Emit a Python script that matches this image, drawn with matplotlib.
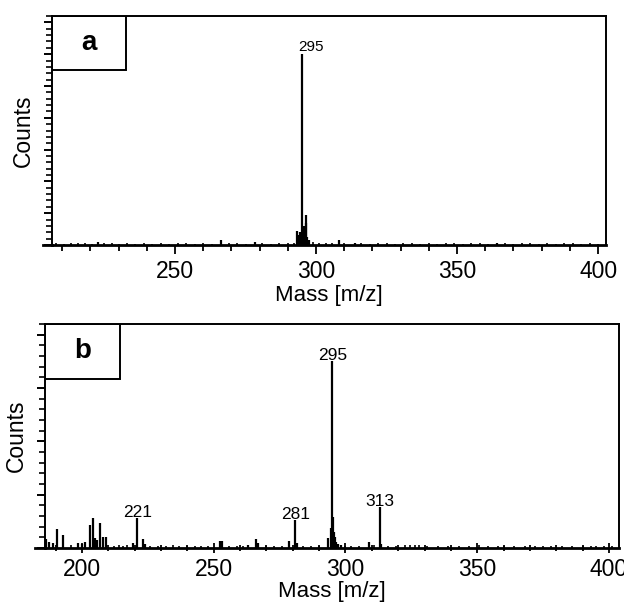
import numpy as np
import matplotlib.pyplot as plt
from matplotlib.patches import Rectangle
from matplotlib.ticker import MultipleLocator

plt.rcParams['font.family'] = ['Liberation Sans', 'DejaVu Sans']

# ---- spectrum a : main ion and its neighbours ----
peaks_a_mz = [293.3, 294.0, 294.4, 294.7, 295.0, 295.4, 295.8, 296.3, 296.6, 296.9, 297.5,
              266.2, 278.2, 308.0, 313.7, 222.8, 364.0]
peaks_a_h = [0.45, 0.30, 0.40, 0.35, 6.0, 0.50, 0.60, 0.95, 0.70, 0.25, 0.15,
             0.15, 0.08, 0.15, 0.07, 0.08, 0.06]

# baseline noise, spectrum a
noise_a_mz = [208, 210.5, 213, 215.5, 218, 220.5, 225, 227.5, 230, 233, 236, 239, 242, 245,
              248, 251, 254, 257, 260, 263, 269, 272, 275, 281, 284, 287, 290, 292.3,
              299, 301, 303.5, 305.5, 310, 316, 319, 322, 325, 328, 331, 334, 337, 340,
              343, 346, 349, 352, 355, 358, 361, 367, 370, 373, 376, 379, 382, 385, 388,
              391, 394, 397, 400]
noise_a_h = [0.05, 0.04, 0.06, 0.05, 0.07, 0.04, 0.05, 0.06, 0.04, 0.05, 0.03, 0.06, 0.04, 0.05,
             0.04, 0.05, 0.06, 0.04, 0.05, 0.04, 0.05, 0.06, 0.04, 0.05, 0.04, 0.06, 0.05, 0.07,
             0.08, 0.06, 0.05, 0.07, 0.06, 0.05, 0.04, 0.06, 0.05, 0.04, 0.05, 0.06, 0.04, 0.05,
             0.04, 0.06, 0.05, 0.04, 0.05, 0.06, 0.04, 0.05, 0.04, 0.06, 0.05, 0.04, 0.05, 0.04,
             0.06, 0.05, 0.04, 0.05, 0.04]

# ---- spectrum b : fragment ions ----
peaks_b_mz = [186.3, 187.6, 188.9, 190.7, 193.0, 198.7, 200.0, 201.3, 202.9, 204.1, 205.1,
              205.7, 207.0, 208.0, 209.0, 219.4, 221.0, 223.0, 223.9,
              252.3, 253.2, 263.2, 266.1, 267.0, 278.5, 281.0, 281.6,
              293.5, 294.4, 295.0, 295.3, 295.6, 296.0, 296.6, 297.3, 298.3,
              308.8, 313.0, 313.6]
peaks_b_h = [0.16, 0.12, 0.10, 0.35, 0.25, 0.10, 0.08, 0.11, 0.43, 0.56, 0.19,
             0.15, 0.46, 0.21, 0.21, 0.09, 0.56, 0.16, 0.08,
             0.14, 0.14, 0.05, 0.17, 0.10, 0.14, 0.52, 0.10,
             0.19, 0.38, 3.50, 0.59, 0.30, 0.20, 0.12, 0.08, 0.05,
             0.11, 0.77, 0.08]

# baseline noise, spectrum b
noise_b_mz = [196, 212, 214, 215.5, 217, 226, 229, 232, 234.5, 237, 240, 243, 245.3, 248,
              256, 259, 261, 270, 273, 276, 284, 287, 290, 300, 302, 305, 311, 316, 319,
              322.7, 324.5, 326.3, 328, 331, 335, 339, 343, 347, 350.8, 354, 358, 360,
              364, 368, 372, 375, 378, 382, 386, 390, 393, 395, 398, 401]
noise_b_h = [0.05, 0.04, 0.05, 0.04, 0.05, 0.04, 0.03, 0.04, 0.05, 0.04, 0.03, 0.04, 0.04, 0.03,
             0.04, 0.03, 0.04, 0.04, 0.03, 0.04, 0.04, 0.03, 0.04, 0.04, 0.03, 0.04, 0.05, 0.04, 0.03,
             0.05, 0.06, 0.05, 0.05, 0.03, 0.03, 0.04, 0.03, 0.04, 0.05, 0.03, 0.04, 0.04,
             0.03, 0.03, 0.04, 0.03, 0.04, 0.03, 0.03, 0.04, 0.04, 0.03, 0.04, 0.03]

labels_a = [295]
labels_b = [221, 281, 295, 313]


def style_axis(ax, xlim, ymax, xdir, xpad):
    ax.set_xlim(*xlim)
    ax.set_ylim(0, ymax)
    ax.xaxis.set_major_locator(MultipleLocator(50))
    ax.xaxis.set_minor_locator(MultipleLocator(10))
    ax.yaxis.set_major_locator(MultipleLocator(1))
    ax.yaxis.set_minor_locator(MultipleLocator(0.2))
    ax.tick_params(axis='x', which='major', direction=xdir, length=6.5, width=1.3,
                   labelsize=16.5, pad=4)
    ax.tick_params(axis='x', which='minor', direction=xdir, length=4, width=1.3)
    ax.tick_params(axis='y', which='major', direction='out', length=5.5, width=1.4,
                   labelleft=False)
    ax.tick_params(axis='y', which='minor', direction='out', length=4, width=1.2)
    for s in ['top', 'right', 'left']:
        ax.spines[s].set_linewidth(1.4)
    ax.spines['bottom'].set_linewidth(2.0)
    ax.set_xlabel('Mass [m/z]', fontsize=16, labelpad=xpad)
    ax.set_ylabel('Counts', fontsize=16.5, labelpad=5)
    # baseline runs a little past the left frame
    ax.plot([-0.017, 0], [0, 0], color='black', lw=2.0, transform=ax.transAxes,
            clip_on=False)


def letter_box(ax, letter, w, h):
    ax.add_patch(Rectangle((0, 1 - h), w, h, transform=ax.transAxes, fill=False,
                           edgecolor='black', lw=1.4, zorder=5))
    ax.text(w / 2, 1 - h / 2, letter, transform=ax.transAxes, fontsize=20,
            fontweight='bold', ha='center', va='center')


fig = plt.figure(figsize=(6.24, 6.05), dpi=100)

# --- panel a ---
ax1 = fig.add_axes([0.0833, 0.5950, 0.8879, 0.3785])
ax1.vlines(noise_a_mz, 0, noise_a_h, color='black', lw=1.2)
ax1.vlines(peaks_a_mz, 0, peaks_a_h, color='black', lw=1.6)
style_axis(ax1, (206.4, 402.8), 7.2, 'out', 2)
letter_box(ax1, 'a', 0.1336, 0.234)
for m in labels_a:
    h = peaks_a_h[peaks_a_mz.index(float(m))]
    ax1.annotate(str(m), (m, h), xytext=(6.5, 0), textcoords='offset points',
                 ha='center', va='bottom', fontsize=11)

# --- panel b ---
ax2 = fig.add_axes([0.0721, 0.0942, 0.9199, 0.3703])
ax2.vlines(noise_b_mz, 0, noise_b_h, color='black', lw=1.2)
ax2.vlines(peaks_b_mz, 0, peaks_b_h, color='black', lw=1.6)
style_axis(ax2, (186.0, 403.8), 4.2, 'inout', 0)
letter_box(ax2, 'b', 0.13, 0.2455)
for m in labels_b:
    h = peaks_b_h[peaks_b_mz.index(float(m))]
    ax2.annotate(str(m), (m, h), xytext=(0, -1.5), textcoords='offset points',
                 ha='center', va='bottom', fontsize=12.5)

fig.savefig('out.png', dpi=100)
